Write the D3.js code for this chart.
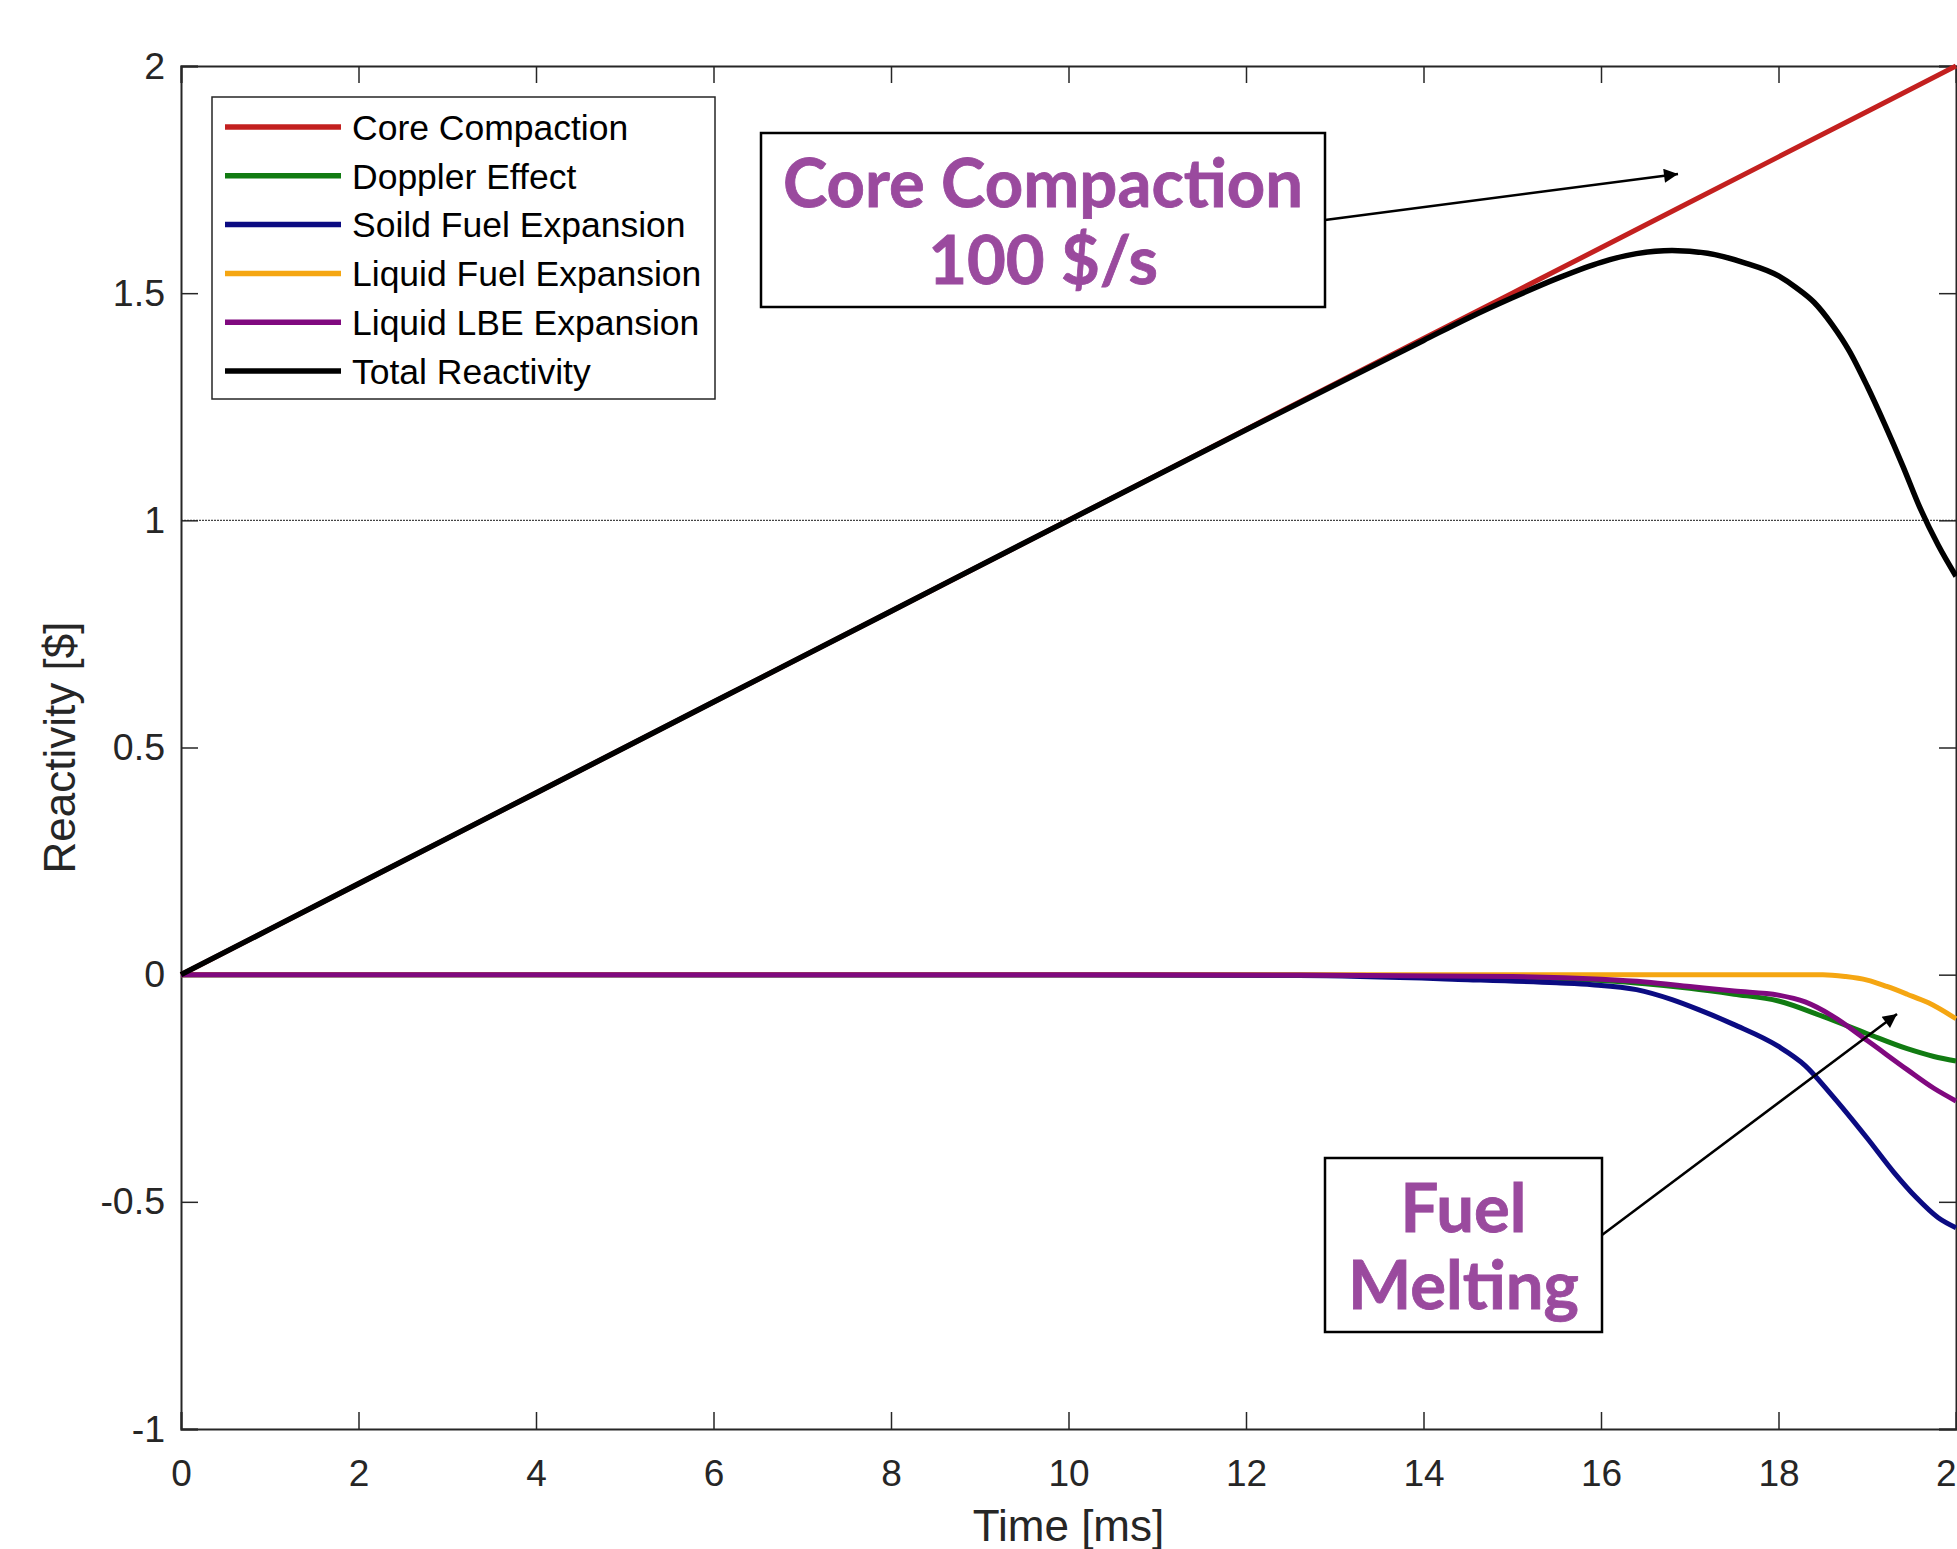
<!DOCTYPE html>
<html>
<head>
<meta charset="utf-8">
<script src="https://cdn.jsdelivr.net/npm/d3@7"></script>
<style>
  body { margin: 0; background: #fff; }
  svg { display: block; }
  .tick text { font-family: "Liberation Sans", Arial, sans-serif; fill: #262626; }
</style>
</head>
<body>
<svg id="chart" width="1957" height="1549"></svg>
<script>
// time axis in ms, reactivity in $
const coreTime = [0, 2, 4, 6, 8, 10, 12, 14, 16, 18, 20];
const coreCompaction = [0, 0.2, 0.4, 0.6, 0.8, 1.0, 1.2, 1.4, 1.6, 1.8, 2.0];

const totalTime = [0, 2, 4, 6, 8, 10, 12, 13, 14, 14.5, 15, 15.5, 16, 16.4, 16.8, 17.2, 17.6, 18, 18.2, 18.4, 18.6, 18.8, 19, 19.2, 19.4, 19.6, 19.8, 20];
const totalReactivity = [0, 0.2, 0.4, 0.6, 0.8, 1.0, 1.199, 1.298, 1.396, 1.445, 1.49, 1.532, 1.568, 1.587, 1.594, 1.588, 1.568, 1.538, 1.512, 1.48, 1.432, 1.372, 1.295, 1.21, 1.12, 1.025, 0.945, 0.877];

const dopplerTime = [0, 4, 8, 12.6, 15, 16, 16.5, 17, 17.5, 18, 18.5, 19, 19.45, 19.75, 20];
const doppler = [0, 0, 0, -0.001, -0.005, -0.013, -0.02, -0.03, -0.043, -0.058, -0.092, -0.13, -0.163, -0.18, -0.19];

const solidTime = [0, 4, 8, 10, 12.6, 14.5, 15.5, 15.9, 16.4, 16.8, 17.1, 17.5, 18, 18.3, 18.6, 19, 19.3, 19.55, 19.8, 20];
const solidFuel = [0, 0, -0.001, -0.001, -0.002, -0.011, -0.018, -0.022, -0.033, -0.055, -0.077, -0.11, -0.158, -0.2, -0.265, -0.36, -0.435, -0.49, -0.535, -0.557];

const liquidFuelTime = [0, 4, 8, 12, 16, 18.5, 18.75, 19, 19.22, 19.45, 19.69, 20];
const liquidFuel = [0, 0, 0, 0, 0, 0, -0.004, -0.012, -0.026, -0.043, -0.062, -0.097];

const lbeTime = [0, 4, 8, 12.6, 15, 16, 16.5, 17, 17.5, 18, 18.3, 18.6, 19, 19.45, 19.75, 20];
const liquidLBE = [0, 0, 0, -0.001, -0.004, -0.01, -0.016, -0.026, -0.036, -0.045, -0.06, -0.09, -0.145, -0.209, -0.25, -0.278];

const seriesNames = ["Core Compaction", "Doppler Effect", "Soild Fuel Expansion", "Liquid Fuel Expansion", "Liquid LBE Expansion", "Total Reactivity"];
const seriesColors = ["#C3201F", "#117B12", "#0B0B82", "#F5A612", "#80097F", "#000000"];

const xTicks = [0, 2, 4, 6, 8, 10, 12, 14, 16, 18, 20];
const yTicks = [-1, -0.5, 0, 0.5, 1, 1.5, 2];

const svg = d3.select("#chart");
svg.append("rect").attr("width", 1957).attr("height", 1549).attr("fill", "#fff");

const plotLeft = 181, plotRight = 1956, plotTop = 66, plotBottom = 1429;
const x = d3.scaleLinear().domain([0, 20]).range([plotLeft, plotRight]);
const y = d3.scaleLinear().domain([-1, 2]).range([plotBottom, plotTop]);

const axisColor = "#262626";

// reference line at 1 $
svg.append("line")
  .attr("x1", x(0)).attr("x2", x(20))
  .attr("y1", y(1)).attr("y2", y(1))
  .attr("stroke", "#444").attr("stroke-width", 1.3)
  .attr("stroke-dasharray", "2,1");

// axes (inward ticks on all four sides)
const styleAxis = (g, fontSize) => {
  g.select(".domain").attr("stroke", axisColor).attr("stroke-width", 2);
  g.selectAll(".tick line").attr("stroke", axisColor).attr("stroke-width", 1.5);
  g.selectAll(".tick text").attr("font-size", fontSize);
};

svg.append("g")
  .attr("transform", `translate(0,${plotBottom})`)
  .call(d3.axisBottom(x).tickValues(xTicks).tickSize(-17).tickPadding(31).tickFormat(d3.format("d")))
  .call(g => styleAxis(g, 37));

svg.append("g")
  .attr("transform", `translate(0,${plotTop})`)
  .call(d3.axisTop(x).tickValues(xTicks).tickSize(-17).tickFormat(""))
  .call(g => styleAxis(g, 37));

svg.append("g")
  .attr("transform", `translate(${plotLeft},0)`)
  .call(d3.axisLeft(y).tickValues(yTicks).tickSize(-17).tickPadding(16).tickFormat(d => d))
  .call(g => styleAxis(g, 37.5));

svg.append("g")
  .attr("transform", `translate(${plotRight},0)`)
  .call(d3.axisRight(y).tickValues(yTicks).tickSize(-17).tickFormat(""))
  .call(g => styleAxis(g, 37));

// axis titles
svg.append("text")
  .attr("x", (plotLeft + plotRight) / 2).attr("y", 1541)
  .attr("text-anchor", "middle")
  .attr("font-family", "Liberation Sans, Arial, sans-serif")
  .attr("font-size", 44).attr("fill", axisColor)
  .text("Time [ms]");

svg.append("text")
  .attr("transform", `translate(75,${(plotTop + plotBottom) / 2}) rotate(-90)`)
  .attr("text-anchor", "middle")
  .attr("font-family", "Liberation Sans, Arial, sans-serif")
  .attr("font-size", 44).attr("fill", axisColor)
  .text("Reactivity [$]");

// data lines
const line = d3.line()
  .x(d => x(d[0]))
  .y(d => y(d[1]))
  .curve(d3.curveMonotoneX);

const series = [
  d3.zip(coreTime, coreCompaction),
  d3.zip(dopplerTime, doppler),
  d3.zip(solidTime, solidFuel),
  d3.zip(liquidFuelTime, liquidFuel),
  d3.zip(lbeTime, liquidLBE),
  d3.zip(totalTime, totalReactivity)
];

const plot = svg.append("g");
series.forEach((s, i) => {
  plot.append("path")
    .datum(s)
    .attr("fill", "none")
    .attr("stroke", seriesColors[i])
    .attr("stroke-width", i === 5 ? 5.5 : 5)
    .attr("stroke-linejoin", "round")
    .attr("d", line);
});

// legend
const legend = svg.append("g").attr("transform", "translate(212,97)");
legend.append("rect")
  .attr("width", 503).attr("height", 302)
  .attr("fill", "#fff").attr("stroke", "#262626").attr("stroke-width", 1.5);

seriesNames.forEach((name, i) => {
  const ly = 30 + i * 48.8;
  legend.append("line")
    .attr("x1", 13).attr("x2", 129)
    .attr("y1", ly).attr("y2", ly)
    .attr("stroke", seriesColors[i]).attr("stroke-width", 5.5);
  legend.append("text")
    .attr("x", 140).attr("y", ly)
    .attr("dy", "0.36em")
    .attr("font-family", "Liberation Sans, Arial, sans-serif")
    .attr("font-size", 35.5).attr("fill", "#000")
    .text(name);
});

// annotations
svg.append("defs").append("marker")
  .attr("id", "arrow")
  .attr("viewBox", "0 0 10 10")
  .attr("refX", 10).attr("refY", 5)
  .attr("markerWidth", 18).attr("markerHeight", 14)
  .attr("markerUnits", "userSpaceOnUse")
  .attr("orient", "auto")
  .append("path").attr("d", "M0,0 L10,5 L0,10 Z").attr("fill", "#000");

const annoColor = "#9A4A9E";
const annoFont = "Lato, 'Open Sans', sans-serif";

const addNote = (bx, by, bw, bh, lines, lineY, fontSize, arrowFrom, arrowTo) => {
  svg.append("line")
    .attr("x1", arrowFrom[0]).attr("y1", arrowFrom[1])
    .attr("x2", arrowTo[0]).attr("y2", arrowTo[1])
    .attr("stroke", "#000").attr("stroke-width", 2.5)
    .attr("marker-end", "url(#arrow)");
  svg.append("rect")
    .attr("x", bx).attr("y", by).attr("width", bw).attr("height", bh)
    .attr("fill", "#fff").attr("stroke", "#000").attr("stroke-width", 2.5);
  lines.forEach((t, i) => {
    svg.append("text")
      .attr("x", bx + bw / 2).attr("y", lineY[i])
      .attr("dy", "0.35em")
      .attr("text-anchor", "middle")
      .attr("font-family", annoFont).attr("font-weight", 700)
      .attr("font-size", fontSize).attr("fill", annoColor)
      .attr("stroke", annoColor).attr("stroke-width", 0.8)
      .text(t);
  });
};

addNote(761, 133, 564, 174, ["Core Compaction", "100 $/s"], [184, 261], 67,
  [1325, 220], [1678, 174]);
addNote(1325, 1158, 277, 174, ["Fuel", "Melting"], [1209, 1286], 67,
  [1602, 1235], [1897, 1014]);
</script>
</body>
</html>
